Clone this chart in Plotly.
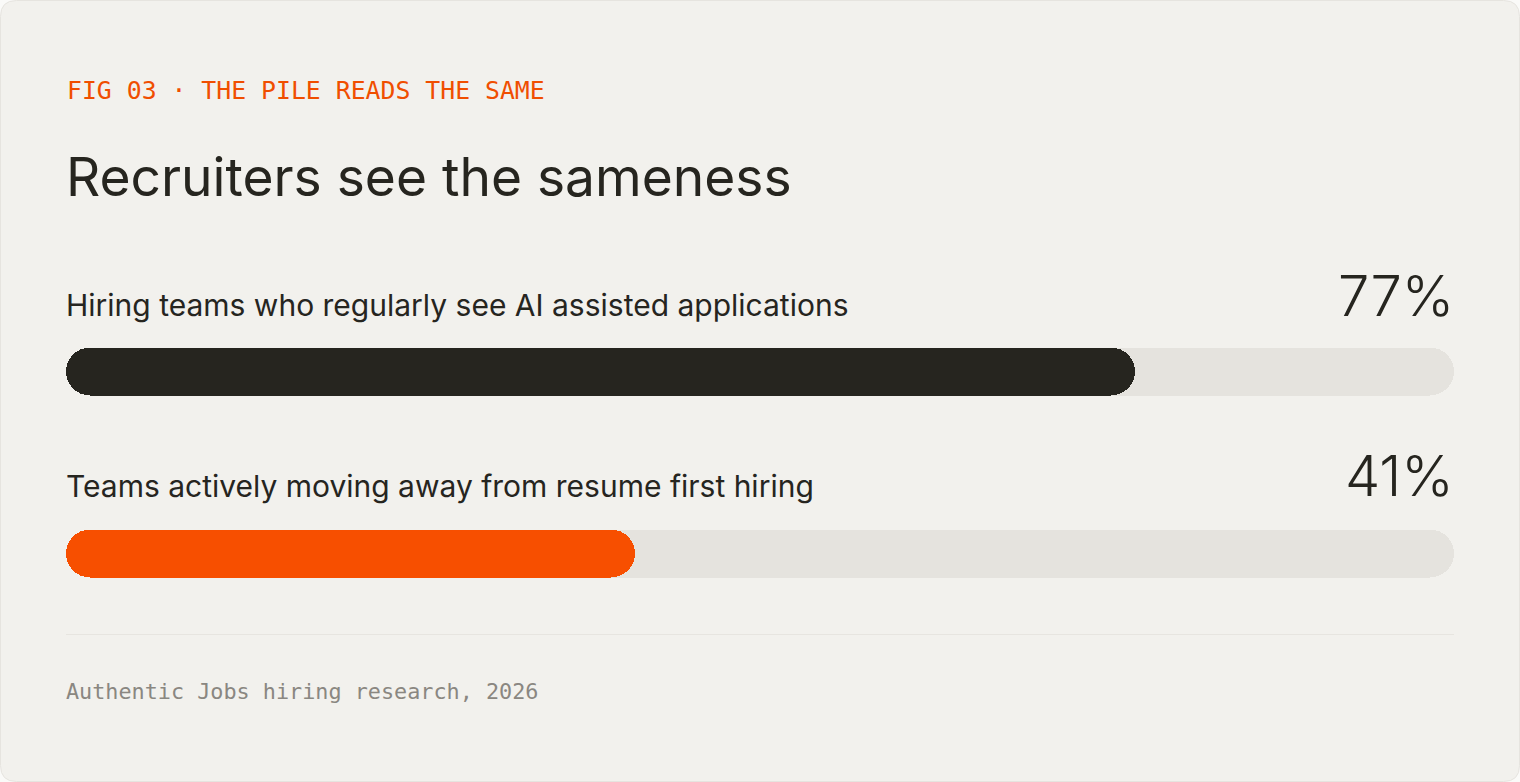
import plotly.graph_objects as go

# ---- data ----
EYEBROW = "FIG 03 · THE PILE READS THE SAME"
TITLE = "Recruiters see the sameness"
LABELS = [
    "Hiring teams who regularly see AI assisted applications",
    "Teams actively moving away from resume first hiring",
]
VALUES = [77, 41]
BAR_COLORS = ["#26251F", "#F74F00"]
SCALE_MAX = 100
SOURCE = "Authentic Jobs hiring research, 2026"

# ---- geometry (pixels) ----
W, H = 1520, 782
X0, X1 = 66, 1454
BAR_PX = 48
STEP_PX = 182
ROW0_CY = 371.5

def px(x):
    return x / W

def py(y):
    return 1 - y / H

top_px = ROW0_CY - STEP_PX / 2
bot_px = top_px + STEP_PX * 2

INK = "#26251F"
TRACK = "#E5E3DE"
CARD = "#F2F1ED"
ACCENT = "#F04E00"

fig = go.Figure()

cats = LABELS
# track: two overlapping halves, each rounded at its far end
fig.add_trace(go.Bar(y=cats, x=[SCALE_MAX * 0.6] * len(cats), base=[SCALE_MAX * 0.4] * len(cats),
                     orientation="h", marker=dict(color=TRACK, cornerradius="50%", line=dict(width=0)),
                     width=BAR_PX / STEP_PX, hoverinfo="skip", showlegend=False))
fig.add_trace(go.Bar(y=cats, x=[-SCALE_MAX * 0.6] * len(cats), base=[SCALE_MAX * 0.6] * len(cats),
                     orientation="h", marker=dict(color=TRACK, cornerradius="50%", line=dict(width=0)),
                     width=BAR_PX / STEP_PX, hoverinfo="skip", showlegend=False))
# values
fig.add_trace(go.Bar(y=cats, x=[v * 0.6 for v in VALUES], base=[v * 0.4 for v in VALUES],
                     orientation="h", marker=dict(color=BAR_COLORS, cornerradius="50%", line=dict(width=0)),
                     width=BAR_PX / STEP_PX, hoverinfo="skip", showlegend=False))
fig.add_trace(go.Bar(y=cats, x=[-v * 0.6 for v in VALUES], base=[v * 0.6 for v in VALUES],
                     orientation="h", marker=dict(color=BAR_COLORS, cornerradius="50%", line=dict(width=0)),
                     width=BAR_PX / STEP_PX, hoverinfo="skip", showlegend=False))

# card background with rounded corners (quadratic curves keep circular corners)
r = 16
x0, x1, y0, y1 = 0.5, W - 0.5, 0.5, H - 0.5
path = (
    f"M {px(x0 + r)},{py(y0)} L {px(x1 - r)},{py(y0)} Q {px(x1)},{py(y0)} {px(x1)},{py(y0 + r)} "
    f"L {px(x1)},{py(y1 - r)} Q {px(x1)},{py(y1)} {px(x1 - r)},{py(y1)} "
    f"L {px(x0 + r)},{py(y1)} Q {px(x0)},{py(y1)} {px(x0)},{py(y1 - r)} "
    f"L {px(x0)},{py(y0 + r)} Q {px(x0)},{py(y0)} {px(x0 + r)},{py(y0)} Z"
)
shapes = [
    dict(type="path", xref="paper", yref="paper", path=path, fillcolor=CARD,
         line=dict(color="#E6E4DF", width=1), layer="below"),
    dict(type="line", xref="paper", yref="paper", x0=px(X0), x1=px(X1), y0=py(634.5), y1=py(634.5),
         line=dict(color="#E7E5E0", width=1), layer="below"),
]

ann = []
ann.append(dict(text=EYEBROW, x=px(65), y=py(90.5), xanchor="left", yanchor="middle",
                font=dict(family="DejaVu Sans Mono", size=24.8, color=ACCENT, weight=400)))
ann.append(dict(text=TITLE, x=px(64), y=py(176), xanchor="left", yanchor="middle",
                font=dict(family="Inter", size=53.3, color=INK, weight=400)))
label_cy = [305, 485.5]
value_cy = [295.5, 475.5]
for i, (lab, v) in enumerate(zip(LABELS, VALUES)):
    ann.append(dict(text=lab, x=px(64), y=py(label_cy[i]), xanchor="left", yanchor="middle",
                    font=dict(family="Inter", size=30, color=INK, weight=400)))
    ann.append(dict(text=f"{v}%", x=px(1456), y=py(value_cy[i]), xanchor="right", yanchor="middle",
                    font=dict(family="Inter", size=56, color=INK, weight=350)))
ann.append(dict(text=SOURCE, x=px(64), y=py(691.5), xanchor="left", yanchor="middle",
                font=dict(family="DejaVu Sans Mono", size=21.8, color="#8A8781")))
for a in ann:
    a.update(xref="paper", yref="paper", showarrow=False)

fig.update_layout(
    width=W, height=H, margin=dict(l=0, r=0, t=0, b=0),
    paper_bgcolor="#FAFAF8", plot_bgcolor="rgba(0,0,0,0)",
    barmode="overlay", bargap=0,
    xaxis=dict(domain=[px(X0), px(X1)], range=[0, SCALE_MAX], visible=False, fixedrange=True),
    yaxis=dict(domain=[py(bot_px), py(top_px)], range=[1.5, -0.5], visible=False, fixedrange=True,
               type="category"),
    shapes=shapes, annotations=ann, showlegend=False,
)

fig.write_html("out.html", config={"displayModeBar": False},
               post_script="document.body.style.margin='0';document.body.style.padding='0';")
